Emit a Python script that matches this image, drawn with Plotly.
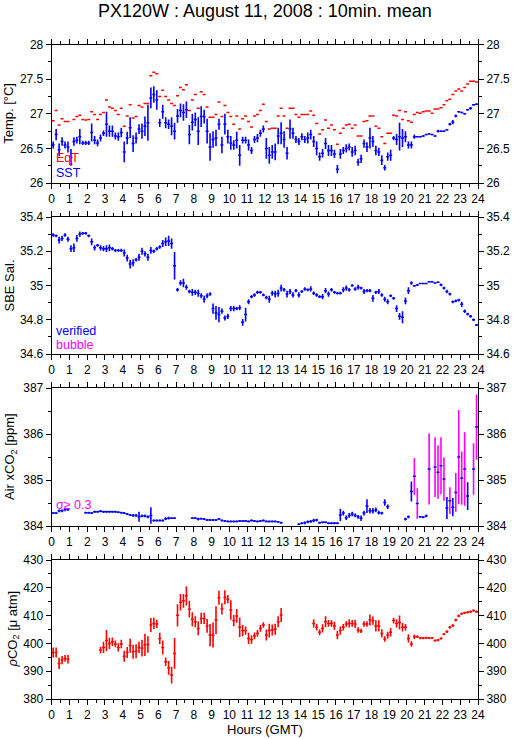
import plotly.graph_objects as go

N = None
# ---------------- data (10-min means, 144 intervals) ----------------
sst = [26.55, 26.70, 26.48, 26.60, 26.55, 26.52,
       26.37, 26.60, 26.62, 26.67, 26.58, 26.58,
       26.58, 26.73, 26.62, 26.58, 26.65, 26.72,
       26.85, 26.75, 26.75, 26.68, 26.67, 26.73,
       26.45, 26.65, 26.80, 26.57, 26.65, 26.78,
       26.75, 26.82, 26.87, 27.23, 27.28, 27.20,
       26.87, 27.03, 26.87, 26.85, 26.82, 26.75,
       26.97, 27.05, 27.02, 27.06, 26.70, 26.88,
       26.92, 26.75, 26.96, 26.96, 26.75, 26.52,
       26.63, 26.65, 26.85, 26.55, 26.85, 26.67,
       26.58, 26.55, 26.62, 26.40, 26.62, 26.62,
       26.55, 26.47, 26.63, 26.65, 26.72, 26.78,
       26.50, 26.40, 26.45, 26.45, 26.68, 26.72,
       26.63, 26.43, 26.78, 26.72, 26.63, 26.60,
       26.67, 26.63, 26.65, 26.70, 26.60, 26.50,
       26.38, 26.43, 26.57, 26.47, 26.47, 26.42,
       26.20, 26.42, 26.47, 26.50, 26.52, 26.45,
       26.47, 26.30, 26.35, 26.57, 26.52, 26.65,
       26.60, 26.47, 26.45, 26.33, 26.22, 26.38,
       26.40, 26.65, 26.63, 26.67, 26.65, 26.67,
       26.55, 26.55, 26.67, 26.67, 26.67, 26.68,
       26.70, 26.71, 26.70, 26.68, 26.75, 26.75,
       26.75, 26.77, 26.85, 26.88, 26.97, 27.03,
       27.02, 27.00, 27.06, 27.08, 27.13, 27.14]
sst_err = [0.05, 0.08, 0.09, 0.06, 0.05, 0.08,
           0.12, 0.06, 0.05, 0.11, 0.03, 0.03,
           0.03, 0.13, 0.06, 0.05, 0.05, 0.04,
           0.18, 0.08, 0.08, 0.05, 0.06, 0.07,
           0.15, 0.09, 0.15, 0.12, 0.08, 0.07,
           0.11, 0.14, 0.26, 0.15, 0.12, 0.14,
           0.06, 0.10, 0.08, 0.07, 0.13, 0.12,
           0.10, 0.10, 0.12, 0.12, 0.14, 0.12,
           0.10, 0.20, 0.15, 0.10, 0.18, 0.20,
           0.12, 0.12, 0.08, 0.12, 0.15, 0.10,
           0.10, 0.07, 0.12, 0.15, 0.05, 0.05,
           0.08, 0.05, 0.05, 0.06, 0.05, 0.05,
           0.15, 0.12, 0.10, 0.12, 0.12, 0.16,
           0.12, 0.09, 0.14, 0.08, 0.05, 0.05,
           0.05, 0.05, 0.08, 0.07, 0.08, 0.10,
           0.06, 0.06, 0.08, 0.08, 0.08, 0.06,
           0.06, 0.07, 0.05, 0.06, 0.05, 0.07,
           0.07, 0.05, 0.06, 0.06, 0.07, 0.15,
           0.08, 0.07, 0.06, 0.07, 0.04, 0.06,
           0.08, 0.03, 0.08, 0.20, 0.13, 0.08,
           0.05, 0.05, 0.03, 0.01, 0.01, 0.01,
           0.01, 0.01, 0.01, 0.01, 0.02, 0.01,
           0.01, 0.01, 0.02, 0.03, 0.02, 0.01,
           0.01, 0.01, 0.01, 0.02, 0.01, 0.01]
eqt = [26.90, 27.05, 26.84, 26.93, 26.89, 26.89,
       26.27, 26.92, 26.96, 26.98, 26.92, 26.91,
       26.92, 27.03, 26.99, 26.92, 26.99, 27.02,
       27.20, 27.10, 27.08, 27.05, 26.99, 27.08,
       26.82, 26.97, 27.13, 26.94, 26.96, 27.12,
       27.10, 27.15, 27.15, 27.55, 27.60, 27.58,
       27.25, 27.34, 27.25, 27.20, 27.15, 27.12,
       27.26, 27.38, 27.35, 27.42, 27.05, 27.20,
       27.28, 27.08, 27.32, 27.28, 27.10, 26.95,
       26.95, 26.99, 27.17, 26.96, 27.12, 27.02,
       26.96, 26.85, 26.97, 26.78, 26.93, 26.97,
       26.89, 26.81, 26.97, 26.99, 27.05, 27.14,
       26.89, 26.78, 26.79, 26.79, 26.97, 27.08,
       26.97, 26.79, 27.08, 27.08, 26.99, 26.95,
       26.99, 26.99, 26.99, 27.04, 26.98, 26.86,
       26.71, 26.77, 26.91, 26.79, 26.84, 26.77,
       26.56, 26.72, 26.79, 26.84, 26.85, 26.79,
       26.84, 26.68, 26.68, 26.89, 26.90, 26.97,
       26.97, 26.82, 26.79, 26.67, 26.57, 26.72,
       26.72, 26.98, 26.97, 27.05, 26.92, 27.03,
       26.90, 26.88, 26.99, 27.02, 27.01, 27.03,
       27.04, 27.04, 27.01, 27.07, 27.07, 27.09,
       27.13, 27.19, 27.21, 27.28, 27.33, 27.36,
       27.33, 27.38, 27.43, 27.47, 27.47, 27.46]
sal = [35.295, 35.29, 35.265, 35.275, 35.295, 35.27,
       35.215, 35.22, 35.275, 35.30, 35.305, 35.305,
       35.29, 35.255, 35.22, 35.235, 35.22, 35.215,
       35.215, 35.22, 35.215, 35.205, 35.205, 35.205,
       35.19, 35.16, 35.125, 35.133, 35.15, 35.165,
       35.20, 35.185, 35.165, 35.205, 35.20, 35.215,
       35.225, 35.245, 35.255, 35.26, 35.245, 35.115,
       34.975, 35.015, 35.015, 34.99, 34.965, 34.96,
       34.96, 34.955, 34.94, 34.92, 34.94, 34.95,
       34.865, 34.84, 34.83, 34.85, 34.81, 34.82,
       34.865, 34.865, 34.865, 34.87, 34.785, 34.83,
       34.905, 34.935, 34.945, 34.96, 34.96, 34.945,
       34.93, 34.92, 34.955, 34.95, 34.955, 34.985,
       34.975, 34.95, 34.965, 34.945, 34.97, 34.945,
       34.965, 34.98, 34.975, 34.98, 34.955, 34.945,
       34.935, 34.935, 34.97, 34.95, 34.975, 34.96,
       34.955, 34.955, 34.975, 34.985, 34.975, 35.00,
       34.98, 34.99, 34.985, 34.965, 34.97, 34.97,
       34.925, 34.96, 34.965, 34.945, 34.92, 34.905,
       34.94, 34.925, 34.865, 34.82, 34.815, 34.91,
       34.97, 35.015, 34.998, 35.003, 35.012, 35.012,
       35.012, 35.022, 35.022, 35.015, 35.019, 35.003,
       34.985, 34.965, 34.95, 34.905, 34.91, 34.915,
       34.89, 34.85, 34.833, 34.82, 34.80, 34.77]
sal_err = [0.01, 0.008, 0.02, 0.015, 0.01, 0.015,
           0.02, 0.025, 0.02, 0.015, 0.008, 0.008,
           0.008, 0.02, 0.015, 0.008, 0.015, 0.015,
           0.02, 0.02, 0.01, 0.008, 0.008, 0.01,
           0.02, 0.02, 0.025, 0.02, 0.01, 0.02,
           0.02, 0.015, 0.02, 0.02, 0.01, 0.01,
           0.01, 0.02, 0.025, 0.03, 0.03, 0.08,
           0.01, 0.015, 0.025, 0.015, 0.01, 0.02,
           0.015, 0.02, 0.015, 0.02, 0.015, 0.01,
           0.03, 0.04, 0.045, 0.015, 0.015, 0.015,
           0.015, 0.015, 0.01, 0.015, 0.02, 0.04,
           0.015, 0.01, 0.01, 0.01, 0.008, 0.008,
           0.01, 0.02, 0.015, 0.02, 0.02, 0.02,
           0.01, 0.02, 0.015, 0.015, 0.01, 0.015,
           0.008, 0.01, 0.008, 0.015, 0.01, 0.01,
           0.008, 0.015, 0.015, 0.015, 0.01, 0.008,
           0.008, 0.008, 0.015, 0.015, 0.01, 0.008,
           0.01, 0.015, 0.008, 0.015, 0.01, 0.01,
           0.02, 0.01, 0.015, 0.01, 0.015, 0.015,
           0.008, 0.008, 0.02, 0.02, 0.035, 0.02,
           0.02, 0.01, 0.005, 0.005, 0.003, 0.003,
           0.003, 0.003, 0.005, 0.003, 0.005, 0.008,
           0.008, 0.01, 0.008, 0.008, 0.008, 0.008,
           0.015, 0.01, 0.008, 0.008, 0.008, 0.005]
xco2 = [384.28, 384.28, 384.33, 384.33, 384.36, 384.36,
        N, N, N, N, N, 384.29,
        384.29, 384.28, 384.31, 384.31, 384.32, 384.31,
        384.31, 384.31, 384.31, 384.31, 384.30, 384.29,
        384.28, 384.26, 384.24, 384.23, 384.23, 384.20,
        384.22, 384.22, 384.20, 384.23, 384.12, 384.12,
        384.12, 384.12, 384.16, 384.17, 384.17, 384.17,
        N, N, N, N, N, 384.17,
        384.17, 384.15, 384.16, 384.15, 384.13, 384.13,
        384.13, 384.13, 384.15, 384.12, 384.11, 384.10,
        384.10, 384.10, 384.10, 384.11, 384.11, 384.11,
        384.10, 384.12, 384.11, 384.10, 384.11, 384.12,
        384.10, 384.10, 384.10, 384.10, 384.09, 384.07,
        N, N, N, N, N, 384.04,
        384.06, 384.07, 384.09, 384.10, 384.12, 384.13,
        384.07, 384.08, 384.08, 384.06, 384.06, 384.06,
        384.06, 384.24, 384.28, 384.18, 384.23, 384.26,
        384.23, 384.20, 384.17, 384.28, 384.43, 384.33,
        384.33, 384.35, 384.29, 384.28, 384.51, 384.42,
        N, N, N, N, N, 384.15,
        384.20, 384.75, 385.08, 384.49, 384.20, 384.19,
        384.22, 385.24, N, 385.28, 385.17, 385.31,
        385.02, 384.39, 384.55, 384.41, 384.73, 385.50,
        385.04, 385.24, 384.65, N, 385.24, 386.15]
xco2_err = [0.02, 0.02, 0.03, 0.03, 0.04, 0.03,
            N, N, N, N, N, 0.02,
            0.02, 0.02, 0.02, 0.02, 0.02, 0.02,
            0.02, 0.02, 0.02, 0.02, 0.02, 0.02,
            0.02, 0.02, 0.02, 0.03, 0.03, 0.11,
            0.03, 0.03, 0.03, 0.18, 0.02, 0.02,
            0.02, 0.02, 0.03, 0.03, 0.02, 0.02,
            N, N, N, N, N, 0.02,
            0.02, 0.03, 0.02, 0.02, 0.02, 0.02,
            0.02, 0.02, 0.02, 0.02, 0.02, 0.02,
            0.02, 0.02, 0.02, 0.02, 0.02, 0.02,
            0.02, 0.02, 0.02, 0.02, 0.02, 0.02,
            0.02, 0.02, 0.02, 0.02, 0.02, 0.02,
            N, N, N, N, N, 0.02,
            0.02, 0.03, 0.03, 0.03, 0.04, 0.03,
            0.02, 0.02, 0.02, 0.02, 0.02, 0.02,
            0.02, 0.13, 0.05, 0.05, 0.05, 0.05,
            0.04, 0.04, 0.06, 0.05, 0.15, 0.06,
            0.06, 0.05, 0.04, 0.03, 0.07, 0.05,
            N, N, N, N, N, 0.03,
            0.03, 0.22, 0.40, 0.33, 0.02, 0.02,
            0.03, 0.77, N, 0.65, 0.58, 0.62,
            0.47, 0.24, 0.29, 0.20, 0.42, 1.02,
            0.58, 0.80, 0.30, N, 0.56, 0.71]
# sigma >= 0.3 (bubble) flag for the xCO2 standard deviation
xco2_flag = [0] * 122 + [1, 1, 0, 0, 0, 1, 0, 1, 1, 1,
                         1, 0, 1, 0, 1, 1, 1, 1, 0, 0, 1, 1]
pco2 = [396.75, 396.75, 392.8, 394.0, 394.6, 394.3,
        N, N, N, N, N, N,
        N, N, N, N, 397.6, 398.55,
        401.0, 400.0, 400.6, 399.8, 398.55, 399.8,
        395.4, 396.75, 399.2, 397.0, 397.2, 398.55,
        398.3, 399.5, 399.6, 406.6, 407.2, 407.0,
        401.8, 398.55, 393.4, 391.2, 388.6, 396.4,
        410.1, 414.8, 415.3, 417.1, 412.3, 408.7,
        407.8, 405.4, 409.0, 409.0, 406.3, 403.0,
        403.0, 408.4, 416.4, 412.4, 416.6, 415.9,
        412.0, 408.2, 409.9, 405.8, 404.6, 404.6,
        401.8, 401.4, 402.7, 403.6, 405.4, 406.6,
        403.0, 404.6, 404.8, 405.1, 407.8, 410.2,
        N, N, N, N, N, N,
        N, N, N, N, 407.2, 405.8,
        404.0, 405.4, 407.8, 407.2, 407.2, 406.3,
        403.0, 404.6, 405.8, 407.0, 407.2, 407.2,
        407.0, 404.8, 404.5, 407.0, 407.0, 408.4,
        408.2, 406.3, 406.3, 403.6, 401.6, 403.0,
        404.0, 408.2, 407.2, 407.5, 405.8, 405.8,
        401.8, 399.8, 402.4, 402.4, 401.9, 401.9,
        402.0, 401.9, 402.0, 401.0, 401.2, 401.8,
        403.3, 404.2, 405.8, 406.4, 408.4, 409.9,
        410.7, 411.0, 411.2, 411.4, 411.8, 411.4]
pco2_err = [1.8, 1.8, 2.0, 1.5, 1.2, 1.5,
            N, N, N, N, N, N,
            N, N, N, N, 1.2, 2.0,
            3.8, 2.0, 1.5, 1.2, 1.5, 1.5,
            2.0, 2.0, 2.5, 2.5, 2.5, 2.0,
            3.0, 4.0, 3.0, 2.5, 2.0, 1.5,
            2.0, 2.5, 1.5, 2.5, 3.0, 5.5,
            4.0, 3.0, 2.5, 3.5, 3.0, 2.5,
            2.0, 2.5, 2.0, 2.0, 2.5, 4.0,
            4.5, 5.0, 2.5, 2.0, 2.5, 1.5,
            3.5, 2.0, 2.5, 3.5, 2.0, 1.5,
            2.0, 1.5, 1.2, 1.2, 1.2, 1.0,
            2.0, 2.5, 2.0, 2.0, 2.0, 2.5,
            N, N, N, N, N, N,
            N, N, N, N, 1.5, 1.2,
            1.0, 1.5, 2.0, 1.2, 1.2, 1.5,
            1.5, 1.5, 1.2, 1.0, 1.5, 1.2,
            1.5, 1.0, 0.8, 1.0, 1.0, 2.0,
            1.5, 2.0, 2.0, 1.5, 1.0, 1.2,
            1.5, 1.0, 1.5, 2.5, 1.5, 1.2,
            1.5, 1.0, 0.8, 0.5, 0.4, 0.4,
            0.4, 0.3, 0.3, 0.4, 0.4, 0.4,
            0.4, 0.5, 0.5, 0.5, 0.5, 0.5,
            0.4, 0.4, 0.4, 0.4, 0.4, 0.4]

hour_ticks = list(range(0, 25))
hours = [k / 6 + 1 / 12 for k in range(144)]  # centres of 10-min intervals
HALF_WIN = 1 / 12

BLUE, RED, MAG = "#0000ff", "#ff0000", "#ff00ff"
FONT = "Liberation Sans, Arial, Helvetica, sans-serif"

W, H = 515, 739
XL, XR = 51.7 / W, 478 / W
panels = [(44.7, 183), (217, 354), (388, 526), (560, 699)]
ydom = [[1 - b / H, 1 - t / H] for t, b in panels]
yranges = [[26, 28], [34.6, 35.4], [384, 387], [380, 430]]
ydticks = [0.5, 0.2, 1, 10]
yminor = [0.25, 0.1, 0.5, 5]
ytitles = ["Temp. [°C]", "SBE Sal.", "Air xCO<sub>2</sub> [ppm]",
           "<i>ρ</i>CO<sub>2</sub> [μ atm]"]
ytitle_x = [9, 9, 11, 13]


def sid(i):
    return "" if i == 1 else str(i)


fig = go.Figure()


def add_series(i, y, err, color, show_y=True):
    fig.add_trace(go.Scatter(
        x=hours, y=y, mode="markers", xaxis=f"x{sid(i)}", yaxis=f"y{sid(i)}",
        marker=dict(size=0, color=color, opacity=0),
        error_x=dict(type="constant", value=HALF_WIN, width=0, thickness=1.5,
                     color=color),
        error_y=dict(type="data", array=err, width=0, thickness=1.6,
                     color=color, visible=show_y),
        showlegend=False, hoverinfo="skip"))


add_series(1, eqt, None, RED, show_y=False)
add_series(1, sst, sst_err, BLUE)
add_series(2, sal, sal_err, BLUE)
blue_err = [e if (e is not None and not f) else 0 for e, f in zip(xco2_err, xco2_flag)]
mag_err = [e if f else 0 for e, f in zip(xco2_err, xco2_flag)]
mag_y = [v if f else None for v, f in zip(xco2, xco2_flag)]
fig.add_trace(go.Scatter(
    x=hours, y=mag_y, mode="markers", xaxis="x3", yaxis="y3",
    marker=dict(size=0, color=MAG, opacity=0),
    error_y=dict(type="data", array=mag_err, width=0, thickness=1.6, color=MAG),
    showlegend=False, hoverinfo="skip"))
add_series(3, xco2, blue_err, BLUE)
add_series(4, pco2, pco2_err, RED)

axis_common = dict(showgrid=False, zeroline=False, showline=True, linecolor="black",
                   linewidth=1, ticks="outside", tickcolor="black", tickwidth=1,
                   automargin=False,
                   tickfont=dict(family=FONT, size=12, color="black"))
layout = dict(width=W, height=H, margin=dict(l=0, r=0, t=0, b=0, autoexpand=False),
              paper_bgcolor="white", plot_bgcolor="white", showlegend=False,
              font=dict(family=FONT, color="black"))
for i in range(1, 5):
    layout[f"xaxis{sid(i)}"] = dict(axis_common, domain=[XL, XR], range=[0, 24],
                                    anchor=f"y{sid(i)}", tickmode="array",
                                    tickvals=hour_ticks, ticklen=5, mirror="ticks",
                                    minor=dict(dtick=0.5, ticklen=3, ticks="outside",
                                               tickcolor="black"))
    layout[f"yaxis{sid(i)}"] = dict(axis_common, domain=ydom[i - 1],
                                    range=yranges[i - 1], anchor=f"x{sid(i)}",
                                    dtick=ydticks[i - 1], ticklen=5, mirror=True,
                                    minor=dict(dtick=yminor[i - 1], ticklen=3,
                                               ticks="outside", tickcolor="black"))
    layout[f"yaxis{i + 4}"] = dict(axis_common, overlaying=f"y{sid(i)}", side="right",
                                   anchor=f"x{sid(i)}", range=yranges[i - 1],
                                   dtick=ydticks[i - 1], ticklen=5, showline=False,
                                   minor=dict(dtick=yminor[i - 1], ticklen=3,
                                              ticks="outside", tickcolor="black"))
    fig.add_trace(go.Scatter(x=[12], y=[yranges[i - 1][0]], mode="markers",
                             xaxis=f"x{sid(i)}", yaxis=f"y{i + 4}",
                             marker=dict(size=0, opacity=0),
                             showlegend=False, hoverinfo="skip"))
fig.update_layout(**layout)

ann = []
ann.append(dict(text="PX120W : August 11, 2008 : 10min. mean", x=265 / W, y=1 - 11 / H,
                xref="paper", yref="paper", showarrow=False, xanchor="center",
                yanchor="middle", font=dict(size=18, family=FONT)))
ann.append(dict(text="Hours (GMT)", x=265 / W, y=1 - 729 / H, xref="paper",
                yref="paper", showarrow=False, xanchor="center", yanchor="middle",
                font=dict(size=13, family=FONT)))
for i in range(4):
    t, b = panels[i]
    ann.append(dict(text=ytitles[i], x=ytitle_x[i] / W, y=1 - (t + b) / 2 / H,
                    xref="paper", yref="paper", showarrow=False, textangle=-90,
                    xanchor="center", yanchor="middle", font=dict(size=13, family=FONT)))
legend_items = [(1, "EqT", RED, 0.181), (1, "SST", BLUE, 0.072),
                (2, "verified", BLUE, 0.168), (2, "bubble", MAG, 0.064),
                (3, "σ≥ 0.3", MAG, 0.152)]
for i, txt, col, yy in legend_items:
    ann.append(dict(text=txt, x=0.005, y=yy, xref=f"x{sid(i)} domain",
                    yref=f"y{sid(i)} domain", showarrow=False, xanchor="left",
                    yanchor="middle", font=dict(size=12.5, family=FONT, color=col)))
fig.update_layout(annotations=ann)

fig.write_html("out.html", config={"displayModeBar": False},
               post_script="document.body.style.margin='0px';"
                           "document.body.style.overflow='hidden';")
